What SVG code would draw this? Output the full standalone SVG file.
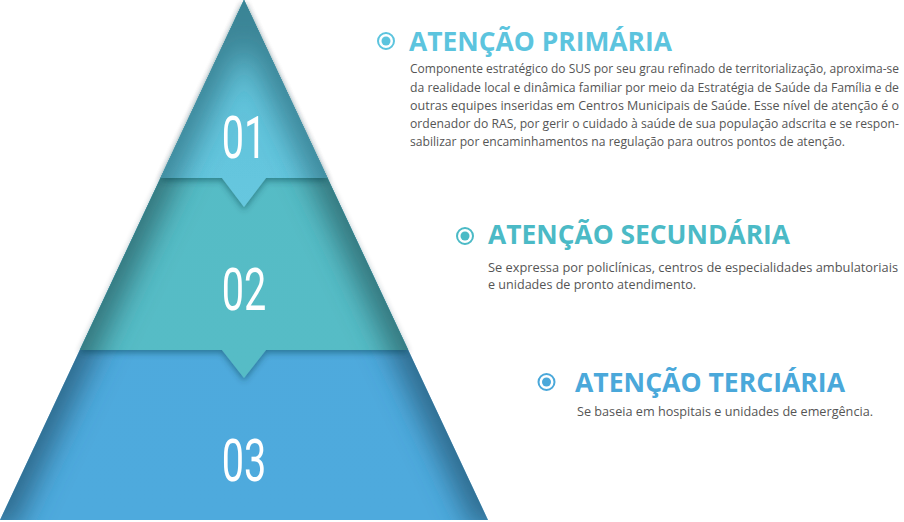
<svg xmlns="http://www.w3.org/2000/svg" width="904" height="522" viewBox="0 0 904 522">
<defs>
<linearGradient id="g1" x1="0" y1="0" x2="0" y2="1">
<stop offset="0" stop-color="#56b3c6"/><stop offset="0.5" stop-color="#62c3db"/><stop offset="1" stop-color="#66c7df"/>
</linearGradient>
<linearGradient id="g2" x1="0" y1="0" x2="0" y2="1">
<stop offset="0" stop-color="#55bcc5"/><stop offset="1" stop-color="#56bcc6"/>
</linearGradient>
<linearGradient id="g3" x1="0" y1="0" x2="0" y2="1">
<stop offset="0" stop-color="#4ea9dc"/><stop offset="1" stop-color="#4eaadd"/>
</linearGradient>
<clipPath id="c1"><polygon points="244,0 327.5,178 266,178 244,207 222,178 160.5,178"/></clipPath>
<clipPath id="c2"><polygon points="244,0 408.2,350 266,350 244,378 222,350 79.8,350"/></clipPath>
<clipPath id="c3"><polygon points="244,0 488,520 0,520"/></clipPath>
<filter id="bl" x="-50%" y="-50%" width="200%" height="200%"><feGaussianBlur stdDeviation="14"/></filter>
<filter id="sh" x="-10%" y="-10%" width="120%" height="130%">
<feDropShadow dx="0" dy="3" stdDeviation="3" flood-color="#0b3a44" flood-opacity="0.45"/>
</filter>
<style>
.num{font-family:Roboto,"Liberation Sans",sans-serif;font-size:60px;fill:#fff;text-anchor:middle}
.ttl{font-family:"Open Sans","Noto Sans",sans-serif;font-weight:700;font-size:26px}
.body{font-family:"Open Sans","Noto Sans",sans-serif;font-size:12px;fill:#555}
.ring{fill:none;stroke-width:2}
.edge{fill:none;stroke-width:70;filter:url(#bl)}
</style>
</defs>

<g id="band3">
<polygon points="244,0 488,520 0,520" fill="url(#g3)"/>
<g clip-path="url(#c3)">
<polyline class="edge" points="-20,520 244,-40 508,520" stroke="#2c6281" stroke-opacity="0.85"/>
</g>
<text class="num" transform="translate(244,481) scale(0.66,1)">03</text>
</g>
<g id="band2">
<g filter="url(#sh)">
<polygon points="244,0 408.2,350 266,350 244,378 222,350 79.8,350" fill="url(#g2)"/>
</g>
<g clip-path="url(#c2)">
<polyline class="edge" points="-20,520 244,-40 508,520" stroke="#2e6b72" stroke-opacity="0.85"/>
</g>
<text class="num" transform="translate(244,310) scale(0.66,1)">02</text>
</g>
<g id="band1">
<g filter="url(#sh)">
<polygon points="244,0 327.5,178 266,178 244,207 222,178 160.5,178" fill="url(#g1)"/>
</g>
<g clip-path="url(#c1)">
<polyline class="edge" points="-20,520 244,-40 508,520" stroke="#2f7080" stroke-opacity="0.7"/>
</g>
<text class="num" transform="translate(244,158) scale(0.66,1)">01</text>
</g>

<g id="primaria">
<circle class="ring" cx="386" cy="41" r="8" stroke="#5cc4de"/>
<circle cx="386" cy="41" r="4.5" fill="#5cc4de"/>
<text class="ttl" x="409" y="51" fill="#5cc4de" textLength="263" lengthAdjust="spacingAndGlyphs">ATENÇÃO PRIMÁRIA</text>
<text class="body" x="410" y="73" textLength="489" lengthAdjust="spacingAndGlyphs">Componente estratégico do SUS por seu grau refinado de territorialização, aproxima-se</text>
<text class="body" x="410" y="91.5" textLength="489" lengthAdjust="spacingAndGlyphs">da realidade local e dinâmica familiar por meio da Estratégia de Saúde da Família e de</text>
<text class="body" x="410" y="110" textLength="489" lengthAdjust="spacingAndGlyphs">outras equipes inseridas em Centros Municipais de Saúde. Esse nível de atenção é o</text>
<text class="body" x="410" y="128" textLength="489" lengthAdjust="spacingAndGlyphs">ordenador do RAS, por gerir o cuidado à saúde de sua população adscrita e se respon-</text>
<text class="body" x="410" y="146" textLength="435" lengthAdjust="spacingAndGlyphs">sabilizar por encaminhamentos na regulação para outros pontos de atenção.</text>
</g>

<g id="secundaria">
<circle class="ring" cx="465" cy="236" r="8" stroke="#4bbac6"/>
<circle cx="465" cy="236" r="4.5" fill="#4bbac6"/>
<text class="ttl" x="488" y="244" fill="#4bbac6" textLength="302" lengthAdjust="spacingAndGlyphs">ATENÇÃO SECUNDÁRIA</text>
<text class="body" x="488" y="272" textLength="410" lengthAdjust="spacingAndGlyphs">Se expressa por policlínicas, centros de especialidades ambulatoriais</text>
<text class="body" x="488" y="289" textLength="208" lengthAdjust="spacingAndGlyphs">e unidades de pronto atendimento.</text>
</g>

<g id="terciaria">
<circle class="ring" cx="546.5" cy="382" r="8" stroke="#4aa8da"/>
<circle cx="546.5" cy="382" r="4.5" fill="#4aa8da"/>
<text class="ttl" x="575" y="392" fill="#4aa8da" textLength="270" lengthAdjust="spacingAndGlyphs">ATENÇÃO TERCIÁRIA</text>
<text class="body" x="577" y="416" textLength="296" lengthAdjust="spacingAndGlyphs">Se baseia em hospitais e unidades de emergência.</text>
</g>

<g id="connectors"></g>
</svg>
